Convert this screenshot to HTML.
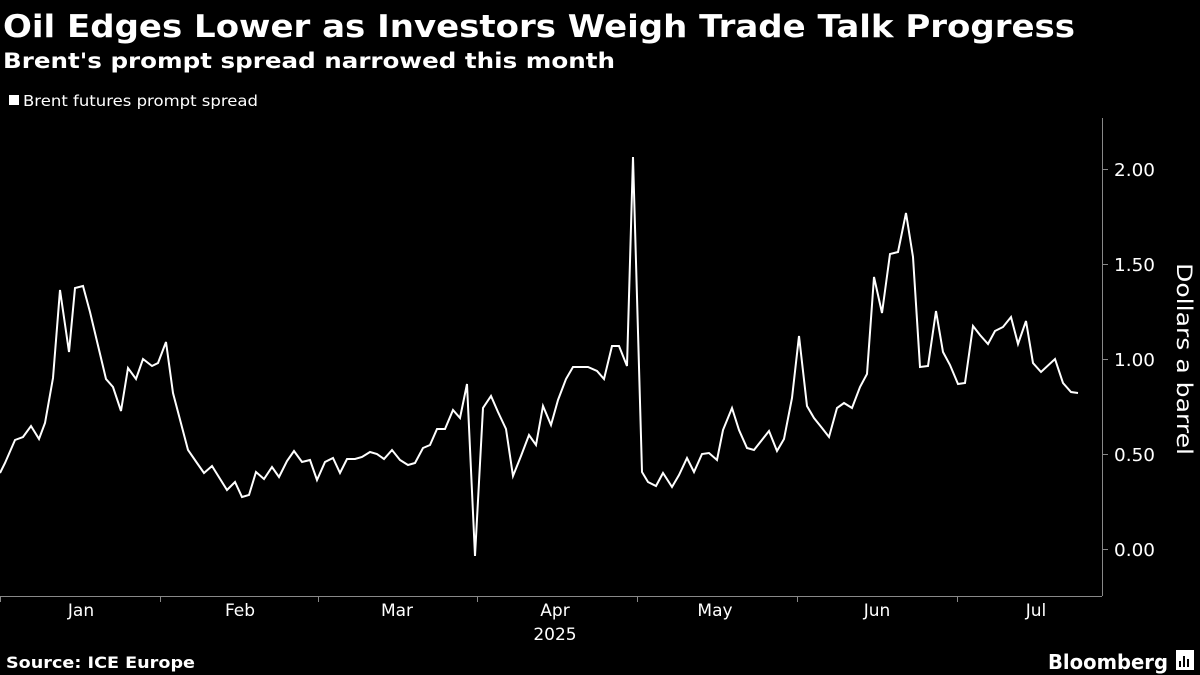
<!DOCTYPE html>
<html><head><meta charset="utf-8"><style>
html,body{margin:0;padding:0;background:#000;width:1200px;height:675px;overflow:hidden}
svg{display:block}
text{font-family:"DejaVu Sans","Liberation Sans",sans-serif;fill:#fff}
</style></head><body>
<svg width="1200" height="675" viewBox="0 0 1200 675">
<rect width="1200" height="675" fill="#000"/>
<text x="3" y="37" font-size="31" font-weight="bold" textLength="1072" lengthAdjust="spacingAndGlyphs">Oil Edges Lower as Investors Weigh Trade Talk Progress</text>
<text x="3" y="68" font-size="21" font-weight="bold" textLength="612" lengthAdjust="spacingAndGlyphs">Brent's prompt spread narrowed this month</text>
<rect x="9" y="95" width="10" height="10" fill="#fff"/>
<text x="23" y="106" font-size="15" textLength="235" lengthAdjust="spacingAndGlyphs">Brent futures prompt spread</text>
<g stroke="#888" stroke-width="1">
<line x1="1102.5" y1="118" x2="1102.5" y2="596"/>
<line x1="0" y1="596.5" x2="1102" y2="596.5"/>
<line x1="1102" y1="169.5" x2="1108" y2="169.5"/>
<line x1="1102" y1="264.5" x2="1108" y2="264.5"/>
<line x1="1102" y1="359.5" x2="1108" y2="359.5"/>
<line x1="1102" y1="454.5" x2="1108" y2="454.5"/>
<line x1="1102" y1="549.5" x2="1108" y2="549.5"/>
<line x1="0.5" y1="596" x2="0.5" y2="602"/>
<line x1="160.5" y1="596" x2="160.5" y2="602"/>
<line x1="318.5" y1="596" x2="318.5" y2="602"/>
<line x1="477.5" y1="596" x2="477.5" y2="602"/>
<line x1="637.5" y1="596" x2="637.5" y2="602"/>
<line x1="797.5" y1="596" x2="797.5" y2="602"/>
<line x1="957.5" y1="596" x2="957.5" y2="602"/>
</g>
<g font-size="18">
<text x="1114" y="176" textLength="41" lengthAdjust="spacingAndGlyphs">2.00</text>
<text x="1114" y="271" textLength="41" lengthAdjust="spacingAndGlyphs">1.50</text>
<text x="1114" y="366" textLength="41" lengthAdjust="spacingAndGlyphs">1.00</text>
<text x="1114" y="461" textLength="41" lengthAdjust="spacingAndGlyphs">0.50</text>
<text x="1114" y="556" textLength="41" lengthAdjust="spacingAndGlyphs">0.00</text>
</g>
<text transform="translate(1177,359) rotate(90)" x="-96" font-size="21" textLength="192" lengthAdjust="spacingAndGlyphs">Dollars a barrel</text>
<g font-size="17" text-anchor="middle">
<text x="81" y="616">Jan</text>
<text x="240" y="616">Feb</text>
<text x="397" y="616">Mar</text>
<text x="555" y="616">Apr</text>
<text x="555" y="640">2025</text>
<text x="715" y="616">May</text>
<text x="877" y="616">Jun</text>
<text x="1036" y="616">Jul</text>
</g>
<polyline fill="none" stroke="#fff" stroke-width="2" stroke-linejoin="miter" points="0,473 5,463 15,440 23,437 31,426 39,439 45,423 53,378 60,290 69,352 75,288 83,286 90,312 106,379 113,387 121,411 128,368 136,379 143,359 152,366 158,363 166,342 173,393 188,450 197,463 204,473 212,466 227,490 235,482 242,497 249,495 256,472 264,479 272,467 279,477 287,461 294,451 302,462 310,460 317,480 325,462 333,458 340,473 347,459 355,459 362,457 370,452 377,454 384,459 392,450 400,460 408,465 415,463 423,448 430,445 437,429 445,429 453,410 460,418 467,384 475,556 483,408 491,396 498,412 506,429 513,476 521,456 529,435 536,445 543,406 551,425 558,400 566,379 573,367 588,367 597,371 604,379 612,346 619,346 627,366 633,157 642,472 648,482 656,486 663,473 672,487 679,475 687,458 694,472 702,454 709,453 717,460 720,445 723,430 732,408 739,430 747,448 754,450 769,431 777,451 784,439 792,398 799,336 807,406 814,418 822,428 829,437 837,408 844,403 852,408 860,387 867,374 874,277 882,313 890,254 898,252 906,213 913,257 920,367 928,366 936,311 943,352 950,365 958,384 965,383 973,326 980,335 988,344 995,331 1003,327 1011,317 1018,344 1026,321 1033,363 1041,372 1055,359 1063,383 1071,392 1078,393"/>
<text x="6" y="668" font-size="16" font-weight="bold" textLength="189" lengthAdjust="spacingAndGlyphs">Source: ICE Europe</text>
<text x="1048" y="669" font-size="20" font-weight="bold" textLength="120" lengthAdjust="spacingAndGlyphs">Bloomberg</text>
<rect x="1176" y="650" width="18" height="20" fill="#fff"/>
<g fill="#000"><rect x="1179" y="661" width="2" height="6"/><rect x="1183" y="656" width="2" height="11"/><rect x="1187" y="659" width="2" height="8"/></g>
</svg>
</body></html>
